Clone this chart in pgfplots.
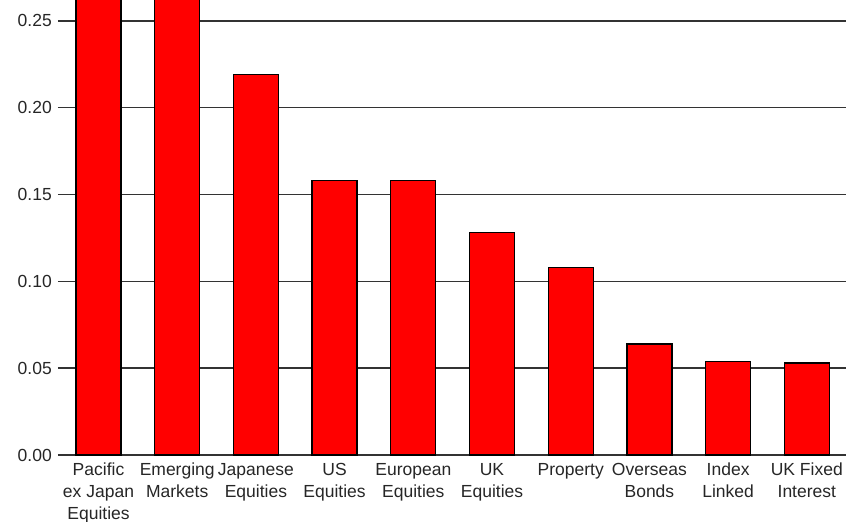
\documentclass[border=0pt]{standalone}
\usepackage{fontspec}
\setmainfont{Liberation Sans}
\usepackage{pgfplots}
\pgfplotsset{compat=1.18}
\begin{document}
\begin{tikzpicture}
\begin{axis}[
  scale only axis,
  width=770pt, height=455pt,
  ybar, bar width=45pt,
  xmin=-0.286, xmax=9.498,
  ymin=0, ymax=0.262,
  clip=false,
  axis line style={draw=none},
  xtick={0,1,2,3,4,5,6,7,8,9},
  xticklabels={{Pacific\\ex Japan\\Equities},{Emerging\\Markets},{Japanese\\Equities},{US\\Equities},{European\\Equities},{UK\\Equities},{Property},{Overseas\\Bonds},{Index\\Linked},{UK Fixed\\Interest}},
  x tick style={draw=none},
  ytick={0,0.05,0.10,0.15,0.20,0.25},
  ytick pos=left,
  tick align=outside,
  major tick length=18pt,
  y tick style={black!80, line width=1.5pt},
  ymajorgrids,
  grid style={black!80, line width=1.5pt},
  /pgf/number format/assume math mode=true,
  yticklabel={\pgfmathprintnumber[fixed,fixed zerofill,precision=2]{\tick}},
  yticklabel style={font=\fontsize{17.5}{22}\selectfont, text=black!85, inner xsep=6pt},
  xticklabel style={font=\fontsize{17.5}{22}\selectfont, text=black!85, align=center, inner ysep=3pt, yshift=13pt},
]
\addplot[fill=red, draw=black, line width=1.3pt] coordinates {(0,0.30) (1,0.30) (2,0.219) (3,0.158) (4,0.158) (5,0.128) (6,0.108) (7,0.064) (8,0.054) (9,0.053)};
\coordinate (bl) at (rel axis cs:0,0);
\coordinate (tr) at (rel axis cs:1,1);
\end{axis}
\pgfresetboundingbox
\path[use as bounding box] (bl) ++(-76pt,-67pt) rectangle (tr);
\end{tikzpicture}
\end{document}
